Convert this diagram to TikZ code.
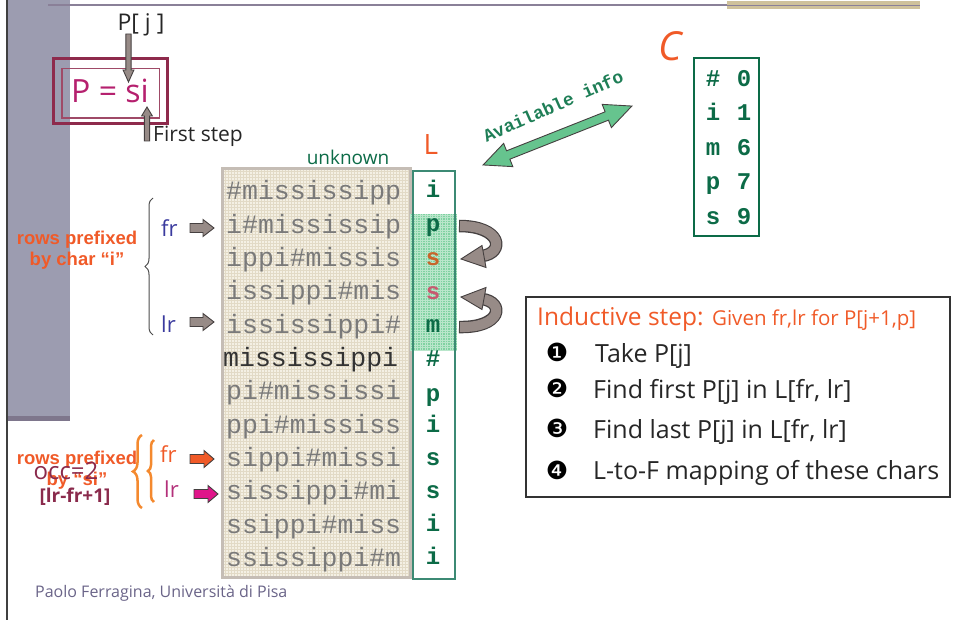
\documentclass[tikz,border=0pt]{standalone}
\usepackage{fontspec}
\setmainfont{Open Sans}
\newfontfamily\cour{Liberation Mono}
\newfontfamily\arialfont{Liberation Sans}
\newfontfamily\dingfont{DejaVu Sans}
\usetikzlibrary{decorations.pathreplacing,calc}

\definecolor{slidebar}{HTML}{9C9CB0}
\definecolor{slidebarshade}{HTML}{7E768C}
\definecolor{slideline}{HTML}{8A8098}
\definecolor{tanband}{HTML}{CFC19B}
\definecolor{accent}{HTML}{F05A28}
\definecolor{pinkP}{HTML}{B5206E}
\definecolor{pframe}{HTML}{8E2A4C}
\definecolor{arrowgray}{HTML}{978B87}
\definecolor{arrowedge}{HTML}{454040}
\definecolor{darkgreen}{HTML}{0C6B47}
\definecolor{infogreen}{HTML}{1E7E56}
\definecolor{lframe}{HTML}{3C8A74}
\definecolor{mint}{HTML}{66C48E}
\definecolor{mesh}{HTML}{80D2A2}
\definecolor{matfill}{HTML}{F4F0E4}
\definecolor{matgrid}{HTML}{E2DAC6}
\definecolor{matframe}{HTML}{C5BDB5}
\definecolor{rowtext}{HTML}{7A7A7A}
\definecolor{frblue}{HTML}{3A3A9E}
\definecolor{braceorange}{HTML}{F4892E}
\definecolor{lrpink}{HTML}{B3307A}
\definecolor{hotpink}{HTML}{E0158A}
\definecolor{occred}{HTML}{8A2A4C}
\definecolor{footer}{HTML}{6A6488}
\definecolor{sbrown}{HTML}{C8642A}
\definecolor{spink}{HTML}{C85A70}

% straight block arrow: style, tail, tip, shaft half width, head half width, head length
\newcommand\blockarrow[6]{%
  \draw[#1] let \p1=(#2), \p2=(#3), \n1={atan2(\y2-\y1,\x2-\x1)},
      \n2={veclen(\x2-\x1,\y2-\y1)} in
    (\p1) ++(\n1+90:#4) -- ++(\n1:{\n2-#6}) -- ++(\n1+90:{#5-#4}) -- (\p2)
    -- ++($(\n1+180:#6)+(\n1-90:#5)$) -- ++(\n1+90:{#5-#4})
    -- ++(\n1+180:{\n2-#6}) -- cycle;}

\begin{document}
\begin{tikzpicture}[x=1pt,y=-1pt,
  rowtxt/.style={anchor=base west, inner sep=0, text=rowtext,
    font=\cour\fontsize{26.5}{26.5}\selectfont},
  lchar/.style={anchor=base, inner sep=0, text=darkgreen,
    font=\cour\bfseries\fontsize{24}{24}\selectfont},
  item/.style={anchor=base west, inner sep=0, text=black!85,
    font=\fontsize{25}{25}\selectfont},
  bullet/.style={inner sep=0, font=\dingfont\fontsize{25}{25}\selectfont},
  grayarrow/.style={fill=arrowgray, draw=arrowedge, line width=0.9pt},
  orangelabel/.style={align=center, inner sep=0, text=accent,
    font=\arialfont\bfseries\fontsize{18.5}{21}\selectfont},
]
\useasboundingbox (0,0) rectangle (953,620);

% slide furniture
\fill[slidebar] (8,0) rectangle (70,417);
\fill[slidebarshade] (8,416) rectangle (70,421);
\draw[line width=2.4pt, black!75] (7,0) -- (7,620);
\draw[line width=1.6pt, slideline] (48,5) -- (729,5);
\fill[tanband] (727,1.5) rectangle (920,9.5);
\draw[line width=1.6pt, slideline] (727,5.5) -- (920,5.5);
\node[anchor=base west, inner sep=0, text=footer, font=\fontsize{16}{16}\selectfont]
  (foot) at (35,597) {Paolo Ferragina, Università di Pisa};

% pattern P
\draw[pframe, line width=3pt] (53,59) rectangle (167,124);
\draw[pframe!85, line width=1.1pt] (62,68.5) rectangle (159.5,118);
\node[anchor=base, inner sep=0, text=pinkP, font=\fontsize{32}{32}\selectfont]
  (pat) at (110,103) {P = si};
\node[anchor=base, inner sep=0, font=\fontsize{23}{23}\selectfont, text=black!85]
  (pj) at (141,31) {P[ j ]};
\coordinate (pjTail) at (128.5,34);
\coordinate (pjTip) at (128.5,82);
\blockarrow{grayarrow}{pjTail}{pjTip}{2.6pt}{5.4pt}{12pt}
\node[anchor=base west, inner sep=0, font=\fontsize{21}{21}\selectfont, text=black!85]
  (fs) at (153,142) {First step};
\coordinate (fsTail) at (147,141);
\coordinate (fsTip) at (147,107);
\blockarrow{grayarrow}{fsTail}{fsTip}{2.6pt}{5.4pt}{9pt}

% array C
\node[inner sep=0, text=accent, font=\itshape\fontsize{40}{40}\selectfont]
  (clab) at (670,46) {C};
\draw[darkgreen, line width=2.5pt] (694,58) rectangle (759,236);
\foreach \ch/\v/\b [count=\k] in {\#/0/87, i/1/121, m/6/156, p/7/190, s/9/225}{
  \node[lchar] (cc\k) at (713,\b) {\ch};
  \node[lchar] (cv\k) at (744,\b) {\v};
}

% available info double arrow
\begin{scope}[shift={(557.5,135.5)}, rotate=21.6]
  \filldraw[fill=mint, draw=arrowedge, line width=0.9pt]
    (-80,0) -- (-53,-12.5) -- (-53,-4.5) -- (53,-4.5) -- (53,-12.5) -- (80,0)
    -- (53,12.5) -- (53,4.5) -- (-53,4.5) -- (-53,12.5) -- cycle;
\end{scope}
\node[rotate=24, inner sep=0, text=infogreen, font=\cour\bfseries\fontsize{18}{18}\selectfont]
  (avail) at (553,106) {Available info};

% sorted rotations
\fill[matfill] (222,169) rectangle (410,577);
\draw[matgrid, line width=0.4pt, step=3pt] (222,169) grid (410,577);
\draw[matframe, line width=3pt] (222,169) rectangle (410,577);
\node[inner sep=0, text=darkgreen, font=\fontsize{19}{19}\selectfont] (unk) at (348,157) {unknown};

\node[rowtxt] (r1) at (226,200.0) {\#mississipp};
\node[rowtxt] (r2) at (226,233.3) {i\#mississip};
\node[rowtxt] (r3) at (226,266.6) {ippi\#missis};
\node[rowtxt] (r4) at (226,299.9) {issippi\#mis};
\node[rowtxt] (r5) at (226,333.2) {ississippi\#};
\node[rowtxt, text=black!80] (r6) at (223,366.5) {mississippi};
\node[rowtxt] (r7) at (226,399.8) {pi\#mississi};
\node[rowtxt] (r8) at (226,433.1) {ppi\#mississ};
\node[rowtxt] (r9) at (226,466.4) {sippi\#missi};
\node[rowtxt] (r10) at (226,499.7) {sissippi\#mi};
\node[rowtxt] (r11) at (226,533.0) {ssippi\#miss};
\node[rowtxt] (r12) at (226,566.3) {ssissippi\#m};

% column L
\node[inner sep=0, text=accent, font=\fontsize{28}{28}\selectfont] (llab) at (431,145) {L};
\fill[white] (413,171) rectangle (455,579);
\fill[mesh] (410,214) rectangle (457,351);
\draw[white, opacity=.45, line width=0.6pt, step=2.5pt] (410,214) grid (457,351);
\draw[lframe, line width=2.5pt] (413,171) rectangle (455,579);
\foreach \ch/\b/\c [count=\k] in {i/198/darkgreen, p/232/darkgreen, s/265.5/sbrown,
    s/299.5/spink, m/333/darkgreen, \#/366.5/darkgreen, p/401/darkgreen,
    i/432.5/darkgreen, s/465.5/darkgreen, s/498/darkgreen, i/531/darkgreen,
    i/564/darkgreen}{
  \node[lchar, text=\c] (l\k) at (433,\b) {\ch};
}

% curved L-to-F arrows
\draw[arrowedge, line width=12.5pt] (459,226) .. controls (502,226) and (505,253) .. (482,256);
\draw[arrowgray, line width=10pt, shorten <=1pt] (459,226) .. controls (502,226) and (505,253) .. (482,256);
\filldraw[fill=arrowgray, draw=arrowedge, line width=0.9pt] (461,259) -- (482,245.5) -- (486,267.5) -- cycle;
\draw[arrowedge, line width=12.5pt] (459,327) .. controls (502,328) and (505,302) .. (482,299);
\draw[arrowgray, line width=10pt, shorten <=1pt] (459,327) .. controls (502,328) and (505,302) .. (482,299);
\filldraw[fill=arrowgray, draw=arrowedge, line width=0.9pt] (461,297) -- (482,309.5) -- (486,287.5) -- cycle;

% rows prefixed by "i"
\node[orangelabel] (pre1) at (77,250) {rows prefixed\\by char “i”};
\draw[decorate, decoration={brace, amplitude=8pt}, black!70, line width=1pt] (153,335) -- (153,198);
\node[anchor=base west, inner sep=0, text=frblue, font=\fontsize{22}{22}\selectfont] (fr1) at (161,237) {fr};
\node[anchor=base west, inner sep=0, text=frblue, font=\fontsize{22}{22}\selectfont] (lr1) at (161,332) {lr};
\coordinate (fr1a) at (190,228); \coordinate (fr1b) at (214,228);
\coordinate (lr1a) at (190,322); \coordinate (lr1b) at (214,322);
\blockarrow{grayarrow}{fr1a}{fr1b}{4.5pt}{8.5pt}{11pt}
\blockarrow{grayarrow}{lr1a}{lr1b}{4.5pt}{8.5pt}{11pt}

% rows prefixed by "si"
\node[orangelabel] (pre2) at (77,470) {rows prefixed\\by “si”};
\node[inner sep=0, text=occred, font=\fontsize{24}{24}\selectfont] (occ) at (66,471) {occ=2};
\node[inner sep=0, text=occred, font=\bfseries\fontsize{19}{19}\selectfont] (rng) at (75,497) {[lr-fr+1]};
\draw[decorate, decoration={brace, amplitude=9pt}, braceorange, line width=2.5pt] (142,508) -- (142,435);
\draw[decorate, decoration={brace, amplitude=6pt}, braceorange, line width=2.5pt] (154,502) -- (154,440);
\node[anchor=base west, inner sep=0, text=accent, font=\fontsize{22}{22}\selectfont] (fr2) at (160,462) {fr};
\node[anchor=base west, inner sep=0, text=lrpink, font=\fontsize{22}{22}\selectfont] (lr2) at (164,497) {lr};
\coordinate (fr2a) at (190,459); \coordinate (fr2b) at (214,459);
\coordinate (lr2a) at (194,494); \coordinate (lr2b) at (218,494);
\blockarrow{fill=accent, draw=arrowedge, line width=0.9pt}{fr2a}{fr2b}{4.5pt}{8.5pt}{10pt}
\blockarrow{fill=hotpink, draw=arrowedge, line width=0.9pt}{lr2a}{lr2b}{4.5pt}{8.5pt}{10pt}

% inductive step box
\draw[black!80, line width=2.5pt] (526,297) rectangle (950,497);
\node[anchor=base west, inner sep=0, text=accent] (ind) at (537,325)
  {{\fontsize{24.5}{24.5}\selectfont Inductive step: }{\fontsize{20.5}{20.5}\selectfont Given fr,lr for P[j+1,p]}};
\node[bullet] (b1) at (557,352) {❶};
\node[bullet] (b2) at (557,388) {❷};
\node[bullet] (b3) at (557,428) {❸};
\node[bullet] (b4) at (557,470) {❹};
\node[item] (t1) at (595,362) {Take P[j]};
\node[item] (t2) at (593,398) {Find first P[j] in L[fr, lr]};
\node[item] (t3) at (593,438) {Find last P[j] in L[fr, lr]};
\node[item] (t4) at (593,479) {L-to-F mapping of these chars};
\end{tikzpicture}
\end{document}
